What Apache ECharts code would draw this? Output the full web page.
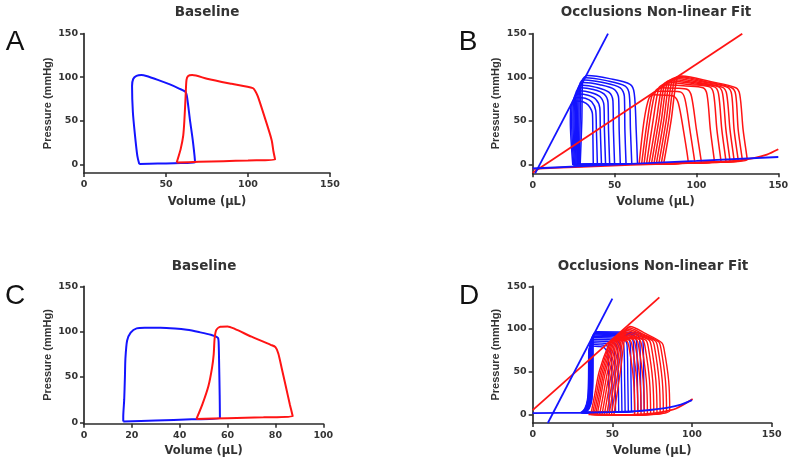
<!DOCTYPE html>
<html><head><meta charset="utf-8">
<script src="https://cdn.jsdelivr.net/npm/echarts@6/dist/echarts.min.js"></script>
<style>html,body{margin:0;padding:0;background:#fff}#c{width:800px;height:466px}</style>
</head><body><div id="c"></div>
<script>
// ---- Panel A (baseline) ----
const blueA = [[33.7,0.3],[45,0.8],[55,1.3],[67.7,2],[66.5,25],[64.6,51],[63,75],[62,83],[58,87],[52,92],[45,97],[38,101.5],[35,102.5],[32,101.5],[30,98],[29.3,90],[29.8,60],[31,35],[32.5,10],[33.7,0.3]];
const redA = [[56.5,2],[70,2.8],[85,3.6],[100,4.4],[116.5,5.5],[115.5,15],[114.4,28],[110,55],[106,78],[104.5,84],[103,87.5],[90,92.4],[75,98.3],[66,102.5],[63.5,101.5],[62.5,97],[62,80],[61.2,50],[60.5,33],[59,18],[57.5,8],[56.5,2]];
// ---- Panel C (baseline) ----
const blueC = [[16.4,0.8],[30,2],[45,3.3],[56.8,4.4],[56.7,30],[56.5,60],[56.3,85],[56,93],[53,96.5],[48,99.5],[43,102],[38,103.5],[32,104.4],[26,104.3],[22,103.6],[19.5,99],[18,90],[17.3,70],[17.1,50],[16.8,25],[16.4,6],[16.4,0.8]];
const redC = [[47,3.8],[60,4.6],[75,5.6],[87.2,6.8],[86,20],[84.3,40],[82.6,60],[81.2,76],[80,83],[78,85.5],[70,94.5],[63,103],[60,105.8],[57,105.5],[55.3,102],[54.6,93],[54.2,75],[53.5,60],[52,40],[49.5,20],[47,3.8]];
// ---- Panel B (occlusions) ----
const loopsBlueB = [
 [[29,0],[46.5,0.6],[64,1.3],[63.2,40],[62,82],[59.5,92],[47,98.5],[33.5,102],[30.5,97],[30,50],[29,0]],
 [[28.5,0],[44.5,0.5],[60.5,1.2],[59.7,40],[59,80],[56.5,90],[45,96.2],[32.5,99.5],[29.5,94.5],[29,50],[28.5,0]],
 [[28,0],[42.5,0.5],[57,1.1],[56.3,40],[56,78],[53.5,88],[43,94],[31.7,97],[28.7,92],[28.2,50],[28,0]],
 [[27.5,-0.1],[40.5,0.4],[53.5,1],[52.8,40],[52.5,76],[50,86],[41,91.5],[31,94],[28,89],[27.5,50],[27.5,-0.1]],
 [[27,-0.2],[38.5,0.3],[50,0.9],[49.3,40],[49,73],[46.5,83],[38.9,88.5],[30.3,91],[27.3,86],[26.8,50],[27,-0.2]],
 [[26.5,-0.2],[36.7,0.3],[47,0.8],[46.3,40],[46,71],[43.5,81],[37,86],[29.5,88],[26.5,83],[26,50],[26.5,-0.2]],
 [[26,-0.3],[35.2,0.2],[44.5,0.7],[43.8,40],[43.5,68],[41,78],[35.4,82.7],[28.8,84.5],[25.8,79.5],[25.3,50],[26,-0.3]],
 [[25.5,-0.3],[33.7,0.2],[42,0.6],[41.3,40],[41,65],[38.5,75],[33.8,79.5],[28.1,81],[25.1,76],[24.6,50],[25.5,-0.3]],
 [[25,-0.4],[32.2,0.1],[39.5,0.5],[38.9,40],[38.5,62],[36,72],[32.1,76],[27.3,77],[24.3,72],[23.8,50],[25,-0.4]],
 [[24.5,-0.4],[30.7,0.1],[37,0.4],[36.7,40],[36.5,58],[34,68],[30.7,72],[26.5,73],[23.5,68],[23,50],[24.5,-0.4]]
];
const loopsRedB = [
 [[80,1],[105.5,2.5],[131,5.8],[128.5,40],[126.5,80],[124,88],[109,95],[91,101.5],[88,97.5],[84.5,50],[80,1]],
 [[78.5,0.9],[103,2.4],[128,5.2],[125.5,40],[124,80],[121.5,88],[107,94.5],[89.5,101],[86.5,97],[83,50],[78.5,0.9]],
 [[77,0.8],[101,2.3],[125.5,4.8],[123,40],[121.5,80.5],[119,88.5],[105,94.3],[88,100],[85,96],[81.5,50],[77,0.8]],
 [[75.5,0.7],[99,2.2],[123,4.5],[120.5,40],[118.5,80.5],[116,88.5],[102.7,93.8],[86.5,99],[83.5,95],[80,50],[75.5,0.7]],
 [[74,0.6],[97,2],[120.5,4.2],[118,40],[116,81],[113.5,89],[100.7,93.2],[85,97.5],[82,93.5],[78.5,50],[74,0.6]],
 [[72.5,0.5],[95,1.9],[118,4],[115.5,40],[113.5,81],[111,89],[98.7,92.5],[83.5,96],[80.5,92],[77,50],[72.5,0.5]],
 [[71,0.5],[93,1.8],[115,3.7],[112.5,40],[110.5,81],[108,89],[96.5,91.5],[82,94],[79,90],[75.5,50],[71,0.5]],
 [[69.5,0.4],[90,1.6],[111,3.3],[108.5,40],[106.5,80],[104,88],[93.5,90],[80,91.5],[77,87.5],[73.5,50],[69.5,0.4]],
 [[68,0.4],[85.5,1.3],[103,2.7],[100,40],[97,78],[94.5,86],[87.5,87.5],[78,88],[75,84],[71.5,50],[68,0.4]],
 [[66.5,0.3],[83,1.2],[99,2.4],[96,40],[93,75],[90.5,83],[84.5,84],[76,84],[73,80],[70,50],[66.5,0.3]],
 [[65,0.3],[80,1.1],[95,2.2],[92,40],[89,70],[86.5,78],[81.5,79.5],[74,80],[71,76],[68,50],[65,0.3]]
];
const espvrBlueB = [[1.5,-10],[46,150]];
const espvrRedB = [[0,-9.5],[128,150]];
const edpvrBlueB = [[0,-4.5],[50,0],[100,4.2],[150,8.7]];
const edpvrRedB = [[0,-5],[30,-2.5],[60,-0.3],[90,1.6],[110,3],[125,4.6],[135,7.5],[143,11.5],[150,17.6]];
// ---- Panel D (occlusions) ----
const loopsBlueD = [
 [[33,2.2],[51,3],[70,4.7],[69.7,40],[69.2,87],[67,95],[54,96.5],[40,97],[38,92],[37.8,40],[37.2,18],[35.5,7],[33,2.2]],
 [[32.8,2.2],[50,2.9],[68,4.4],[67.7,40],[67.2,86],[65,94],[53,95.5],[39.8,96],[37.8,91],[37.6,40],[37,18],[35.3,7],[32.8,2.2]],
 [[32.5,2.2],[49,2.9],[66,4.1],[65.7,40],[65.2,85],[63,93],[52,94.5],[39.5,95],[37.5,90],[37.3,40],[36.7,18],[35,7],[32.5,2.2]],
 [[32.2,2.1],[48,2.8],[64,3.9],[63.7,40],[63.2,84],[61,92],[50.5,93.5],[39.2,94],[37.2,89],[37,40],[36.4,18],[34.7,7],[32.2,2.1]],
 [[32,2.1],[47,2.7],[62,3.7],[61.7,40],[61.2,83],[59,91],[49.5,92.5],[39,93],[37,88],[36.8,40],[36.2,18],[34.5,7],[32,2.1]],
 [[31.8,2.1],[46,2.7],[60,3.6],[59.7,40],[59.2,81.5],[57,89.5],[48.5,91],[38.7,91.5],[36.7,86.5],[36.5,40],[35.9,18],[34.2,7],[31.8,2.1]],
 [[31.5,2.1],[45,2.6],[58,3.4],[57.7,40],[57.2,80],[55,88],[47,89.5],[38.5,90],[36.5,85],[36.3,40],[35.7,18],[34,7],[31.5,2.1]],
 [[31.3,2.1],[44,2.6],[56,3.3],[55.7,40],[55.2,78],[53,86],[46,87.5],[38.2,88],[36.2,83],[36,40],[35.4,18],[33.7,7],[31.3,2.1]],
 [[31,2],[42.5,2.5],[54,3.1],[53.7,40],[53.2,76],[51,84],[45,85.5],[38,86],[36,81],[35.8,40],[35.2,18],[33.5,7],[31,2]],
 [[30.8,2],[41.5,2.5],[52,3],[51.7,40],[51.2,74],[49,82],[43.5,83.5],[37.7,84],[35.7,79],[35.5,40],[34.9,18],[33.2,7],[30.8,2]],
 [[30.5,2],[40,2.4],[50,2.8],[49.7,40],[49.2,72],[47,80],[42.5,81.5],[37.5,82],[35.5,77],[35.3,40],[34.7,18],[33,7],[30.5,2]],
 [[30.2,2],[39,2.3],[48,2.7],[47.7,40],[47.2,70],[45,78],[41.5,79.5],[37.2,80],[35.2,75],[35,40],[34.4,18],[32.7,7],[30.2,2]]
];
const loopsRedD = [
 [[51,0],[68,-0.3],[86,4.5],[85.3,40],[82.5,76],[81,84],[71,94.5],[61,103],[58.5,98],[55,50],[53,25],[51,0]],
 [[49.5,0],[66.5,-0.4],[84,3.6],[83.3,40],[80.5,77],[79,85],[70,93.5],[60,101.5],[57.5,96.5],[53.5,50],[51.5,25],[49.5,0]],
 [[48,0],[65,-0.4],[82,2.8],[81.3,40],[78.5,78],[77,86],[68.5,93.5],[59,100],[56.5,95],[52.2,50],[50.1,25],[48,0]],
 [[46.5,0],[63,-0.5],[80,2.2],[79.3,40],[76.5,78.5],[75,86.5],[67,93],[58,98.5],[55.5,93.5],[50.9,50],[48.7,25],[46.5,0]],
 [[45,0],[61.5,-0.5],[78,1.7],[77.3,40],[74.5,79],[73,87],[65.5,92.5],[57,97],[54.5,92],[49.6,50],[47.3,25],[45,0]],
 [[43.5,0],[60,-0.5],[76,1.3],[75.3,40],[72.5,79],[71,87],[64,91.5],[56,95.5],[53.5,90.5],[48.3,50],[45.9,25],[43.5,0]],
 [[42,0],[58,-0.5],[74,1],[73.3,40],[70.5,79.5],[69,87.5],[62.5,91],[55,94],[52.5,89],[47,50],[44.5,25],[42,0]],
 [[40.5,0],[56,-0.5],[72,0.8],[71.3,40],[68.5,79.5],[67,87.5],[61,90.3],[54,92.5],[51.5,87.5],[45.7,50],[43.1,25],[40.5,0]],
 [[39.5,0],[55,-0.5],[70,0.5],[69.3,40],[66.5,80],[65,88],[59.5,89.8],[53,91],[50.5,86],[44.7,50],[42.1,25],[39.5,0]],
 [[38.5,0],[53,-0.5],[68,0.3],[67.3,40],[64.5,80],[63,88],[58,89],[52,89.5],[49.5,84.5],[43.7,50],[41.1,25],[38.5,0]],
 [[37.5,0],[52,-0.5],[66,0.2],[65.3,40],[62.5,79],[61,87],[56.5,87.8],[51,88],[48.5,83],[42.7,50],[40.1,25],[37.5,0]],
 [[36.5,0],[50,-0.5],[64,0.1],[63.3,40],[60.5,78],[59,86],[55,86.5],[50,86],[47.5,81],[41.7,50],[39.1,25],[36.5,0]]
];
const espvrBlueD = [[9.5,-10],[50,135.5]];
const espvrRedD = [[0,5],[79.5,137]];
const edpvrBlueD = [[0,1.5],[30,2],[50,2.8],[65,4],[75,5.5],[85,8],[93,11.5],[100,16.8]];
const edpvrRedD = [[35,0],[55,-0.5],[70,0.5],[80,2.5],[90,7],[100.4,18]];

// ---- axes / text ----
const titles = ['Baseline','Occlusions Non-linear Fit','Baseline','Occlusions Non-linear Fit'];
const letters = ['A','B','C','D'];
const xMax = [150,150,100,150];
const xInterval = [50,50,20,50];
const yMin = [-10,-10,-1.5,-10];
const yTicks = [0,50,100,150];

const BLUE = '#1414ff', RED = '#ff1414', AX = '#2a2a2a';
const grids = [
  {left:84, top:33.7, width:246, height:139.3},
  {left:532.7, top:33.7, width:245.6, height:139.6},
  {left:84, top:286.3, width:239.3, height:137.4},
  {left:532.7, top:286.3, width:239, height:136.7}
];
const titlePos = [[207,12],[656,12],[204,266],[653,266]];
const letterPos = [[15,42],[468,42],[15,296],[469,296]];
const xNameGap = [23,23,21.5,22];

const hFont = '"DejaVu Sans", sans-serif';
const xAxes = grids.map((g,i)=>({
  gridIndex:i, type:'value', min:0, max:xMax[i], interval:xInterval[i],
  axisLine:{show:true, onZero:false, lineStyle:{color:AX, width:1.7}},
  axisTick:{show:true, length:4, lineStyle:{color:AX, width:1.5}},
  splitLine:{show:false},
  axisLabel:{fontFamily:hFont, fontWeight:'bold', fontSize:9.5, color:'#333', margin:7},
  name:'Volume (µL)', nameLocation:'middle', nameGap:xNameGap[i],
  nameTextStyle:{fontFamily:hFont, fontWeight:'bold', fontSize:11.5, color:'#333'}
}));
const yAxes = grids.map((g,i)=>({
  gridIndex:i, type:'value', min:yMin[i], max:150,
  axisLine:{show:true, onZero:false, lineStyle:{color:AX, width:1.7}},
  axisTick:{show:true, length:4, customValues:yTicks, lineStyle:{color:AX, width:1.5}},
  splitLine:{show:false},
  axisLabel:{fontFamily:hFont, fontWeight:'bold', fontSize:9.5, color:'#333', margin:6, customValues:yTicks},
  name:'Pressure (mmHg)', nameLocation:'middle', nameGap:31, nameRotate:90,
  nameTextStyle:{fontFamily:'"Liberation Sans", Arial, sans-serif', fontWeight:'bold', fontSize:11, color:'#333'}
}));

function ln(data, gi, color, width, smooth, z){
  return {type:'line', xAxisIndex:gi, yAxisIndex:gi, data:data, showSymbol:false, symbol:'none',
    smooth:smooth, animation:false, silent:true, z:z||2,
    lineStyle:{color:color, width:width}};
}
const series = [];
series.push(ln(blueA,0,BLUE,2,0.25));
series.push(ln(redA,0,RED,2,0.25));
series.push(ln(blueC,2,BLUE,2,0.25));
series.push(ln(redC,2,RED,2,0.25));
loopsBlueB.forEach(d=>series.push(ln(d,1,BLUE,1.5,0.3)));
loopsRedB.forEach(d=>series.push(ln(d,1,RED,1.5,0.3)));
series.push(ln(espvrRedB,1,RED,1.8,false,3));
series.push(ln(edpvrRedB,1,RED,1.8,0.3,3));
series.push(ln(espvrBlueB,1,BLUE,1.8,false,4));
series.push(ln(edpvrBlueB,1,BLUE,1.8,false,4));
loopsBlueD.forEach(d=>series.push(ln(d,3,BLUE,1.4,0.3)));
loopsRedD.forEach(d=>series.push(ln(d,3,RED,1.4,0.3)));
series.push(ln(espvrRedD,3,RED,1.8,false,3));
series.push(ln(edpvrRedD,3,RED,1.8,0.3,3));
series.push(ln(espvrBlueD,3,BLUE,1.8,false,4));
series.push(ln(edpvrBlueD,3,BLUE,1.8,0.3,4));

const graphic = [];
titles.forEach((t,i)=>graphic.push({type:'text', x:titlePos[i][0], y:titlePos[i][1],
  style:{text:t, font:'bold 13.5px "DejaVu Sans", sans-serif', fill:'#333', align:'center', verticalAlign:'middle', textAlign:'center', textVerticalAlign:'middle'}}));
letters.forEach((t,i)=>graphic.push({type:'text', x:letterPos[i][0], y:letterPos[i][1],
  style:{text:t, font:'28px "Liberation Sans", Arial, sans-serif', fill:'#111', align:'center', verticalAlign:'middle', textAlign:'center', textVerticalAlign:'middle'}}));

const chart = echarts.init(document.getElementById('c'), null, {renderer:'canvas'});
chart.setOption({
  backgroundColor:'#fff', animation:false,
  grid: grids, xAxis: xAxes, yAxis: yAxes, series: series, graphic: graphic
});
</script></body></html>
